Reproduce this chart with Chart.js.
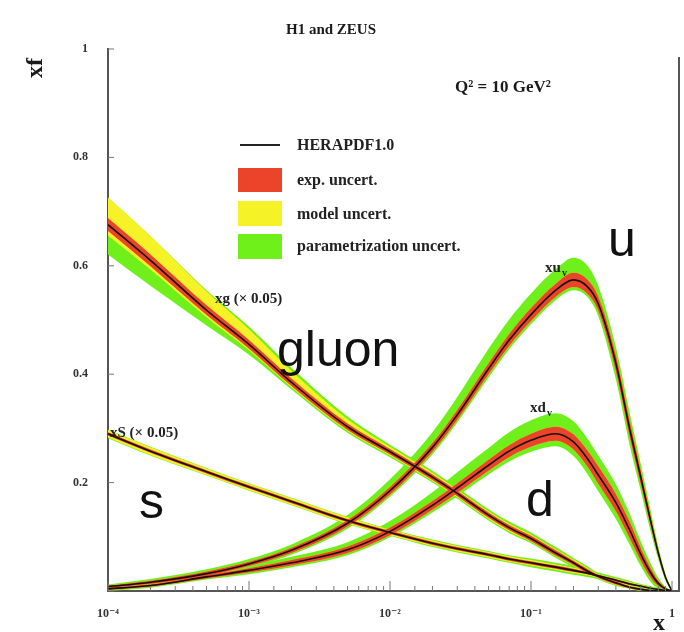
<!DOCTYPE html>
<html>
<head>
<meta charset="utf-8">
<script src="https://cdn.jsdelivr.net/npm/chart.js@4.4.1/dist/chart.umd.min.js"></script>
<style>
  html, body { margin: 0; padding: 0; background: #fff; }
</style>
</head>
<body>
<canvas id="pdf-chart" width="684" height="632"></canvas>
<script>
// x grid (log scale) shared by all the curves
const xValues = [1e-4, 2e-4, 5e-4, 1e-3, 2e-3, 5e-3, 0.01, 0.02, 0.03, 0.05, 0.07, 0.1,
                 0.15, 0.2, 0.25, 0.3, 0.4, 0.5, 0.6, 0.7, 0.8, 0.9, 1];

// central values, HERAPDF1.0 at Q^2 = 10 GeV^2
const gluon    = [0.676, 0.61, 0.518, 0.455, 0.385, 0.303, 0.257, 0.21, 0.18, 0.14, 0.117, 0.097,
                  0.07, 0.052, 0.037, 0.027, 0.015, 0.007, 0.003, 0.001, 0, 0, 0];   // xg x 0.05
const sea      = [0.29, 0.258, 0.22, 0.192, 0.165, 0.13, 0.108, 0.088, 0.078, 0.067, 0.059, 0.052,
                  0.044, 0.038, 0.033, 0.028, 0.02, 0.013, 0.009, 0.005, 0.003, 0.001, 0];  // xS x 0.05
const uValence = [0.008, 0.016, 0.032, 0.05, 0.075, 0.125, 0.185, 0.265, 0.325, 0.41, 0.463, 0.51,
                  0.555, 0.574, 0.562, 0.53, 0.42, 0.30, 0.21, 0.133, 0.07, 0.025, 0];
const dValence = [0.004, 0.01, 0.026, 0.038, 0.052, 0.076, 0.11, 0.158, 0.19, 0.232, 0.258, 0.278,
                  0.29, 0.275, 0.245, 0.214, 0.163, 0.113, 0.068, 0.035, 0.014, 0.004, 0];

// uncertainties (widths of each band layer)
const gluonExp    = [0.012, 0.011, 0.009, 0.008, 0.007, 0.006, 0.005, 0.005, 0.005, 0.005, 0.005, 0.005,
                     0.005, 0.004, 0.004, 0.003, 0.003, 0.002, 0.002, 0.001, 0.001, 0, 0];
const gluonModUp  = [0.038, 0.034, 0.026, 0.02, 0.014, 0.008, 0.004, 0.003, 0.002, 0.002, 0.002, 0.002,
                     0.002, 0.002, 0.002, 0.001, 0.001, 0.001, 0, 0, 0, 0, 0];
const gluonModDn  = [0.008, 0.006, 0.004, 0.003, 0.002, 0.002, 0.002, 0.002, 0.002, 0.002, 0.002, 0.001,
                     0.001, 0.001, 0.001, 0.001, 0.001, 0, 0, 0, 0, 0, 0];
const gluonParUp  = [0, 0, 0.002, 0.005, 0.006, 0.005, 0.004, 0.004, 0.004, 0.004, 0.004, 0.004,
                     0.004, 0.003, 0.003, 0.002, 0.002, 0.001, 0.001, 0, 0, 0, 0];
const gluonParDn  = [0.035, 0.03, 0.015, 0.008, 0.004, 0.003, 0.003, 0.003, 0.003, 0.003, 0.003, 0.003,
                     0.003, 0.003, 0.002, 0.002, 0.002, 0.001, 0.001, 0, 0, 0, 0];
const seaExp      = [0.003, 0.003, 0.003, 0.003, 0.003, 0.003, 0.003, 0.003, 0.003, 0.003, 0.003, 0.003,
                     0.003, 0.003, 0.002, 0.002, 0.002, 0.002, 0.001, 0.001, 0.001, 0, 0];
const seaMod      = [0.004, 0.004, 0.003, 0.003, 0.003, 0.003, 0.002, 0.002, 0.002, 0.002, 0.002, 0.002,
                     0.002, 0.002, 0.002, 0.001, 0.001, 0.001, 0.001, 0.001, 0, 0, 0];
const seaPar      = [0.001, 0.001, 0.001, 0.001, 0.001, 0.001, 0.001, 0.002, 0.002, 0.002, 0.002, 0.003,
                     0.003, 0.003, 0.003, 0.003, 0.003, 0.003, 0.002, 0.002, 0.001, 0.001, 0];
const uExp        = [0.002, 0.003, 0.004, 0.004, 0.005, 0.006, 0.007, 0.008, 0.009, 0.01, 0.011, 0.012,
                     0.012, 0.013, 0.013, 0.013, 0.015, 0.015, 0.013, 0.01, 0.006, 0.003, 0];
const uParUp      = [0.002, 0.003, 0.004, 0.005, 0.006, 0.009, 0.014, 0.02, 0.024, 0.027, 0.027, 0.027,
                     0.027, 0.028, 0.026, 0.02, 0.015, 0.015, 0.012, 0.01, 0.006, 0.003, 0];
const uParDn      = [0.002, 0.002, 0.003, 0.003, 0.003, 0.004, 0.004, 0.005, 0.005, 0.006, 0.006, 0.006,
                     0.006, 0.006, 0.006, 0.01, 0.015, 0.015, 0.012, 0.01, 0.006, 0.003, 0];
const dExp        = [0.002, 0.002, 0.003, 0.004, 0.005, 0.006, 0.007, 0.008, 0.009, 0.01, 0.011, 0.012,
                     0.013, 0.014, 0.015, 0.016, 0.016, 0.015, 0.012, 0.009, 0.005, 0.002, 0];
const dParUp      = [0.002, 0.003, 0.003, 0.004, 0.006, 0.008, 0.012, 0.016, 0.02, 0.022, 0.024, 0.025,
                     0.025, 0.024, 0.022, 0.02, 0.018, 0.015, 0.012, 0.009, 0.005, 0.002, 0];
const dParDn      = [0.002, 0.002, 0.002, 0.003, 0.003, 0.004, 0.004, 0.005, 0.006, 0.007, 0.008, 0.009,
                     0.01, 0.012, 0.013, 0.014, 0.014, 0.012, 0.01, 0.008, 0.005, 0.002, 0];

const zeros = xValues.map(() => 0);

const RED = 'rgb(236, 68, 42)';
const YELLOW = 'rgb(246, 242, 40)';
const GREEN = 'rgb(112, 240, 26)';

// sum a list of width arrays and add them to the centre
function offset(centre, widths, sign) {
    return centre.map((v, i) => {
        let w = 0;
        widths.forEach(arr => { w += arr[i]; });
        return Math.max(0, v + sign * w);
    });
}

function points(vals) {
    return xValues.map((x, i) => ({ x: x, y: vals[i] }));
}

const datasets = [];

function addBand(hi, lo, colour, order) {
    datasets.push({ data: points(hi), borderWidth: 0, backgroundColor: colour, fill: '+1', order: order });
    datasets.push({ data: points(lo), borderWidth: 0, fill: false, order: order });
}

function addPdf(centre, exp, modUp, modDn, parUp, parDn) {
    addBand(offset(centre, [exp, modUp, parUp], 1), offset(centre, [exp, modDn, parDn], -1), GREEN, 4);
    addBand(offset(centre, [exp, modUp], 1), offset(centre, [exp, modDn], -1), YELLOW, 3);
    addBand(offset(centre, [exp], 1), offset(centre, [exp], -1), RED, 2);
    datasets.push({ data: points(centre), borderColor: '#151010', borderWidth: 1.6, fill: false, order: 1 });
}

addPdf(gluon, gluonExp, gluonModUp, gluonModDn, gluonParUp, gluonParDn);
addPdf(sea, seaExp, seaMod, seaMod, seaPar, seaPar);
addPdf(uValence, uExp, zeros, zeros, uParUp, uParDn);
addPdf(dValence, dExp, zeros, zeros, dParUp, dParDn);

const SERIF = '"Liberation Serif", "DejaVu Serif", serif';
const SANS = '"Liberation Sans", Arial, sans-serif';
const supMap = { '-': '\u207B', '0': '\u2070', '1': '\u00B9', '2': '\u00B2', '3': '\u00B3', '4': '\u2074' };

function text(ctx, s, x, y, font, align) {
    ctx.font = font;
    ctx.textAlign = align || 'left';
    ctx.fillText(s, x, y);
}

// frame, inward ticks, labels and legend
const decorations = {
    id: 'decorations',
    afterDraw(chart) {
        const { ctx, chartArea: a, scales } = chart;
        ctx.save();
        ctx.strokeStyle = '#555';
        ctx.lineWidth = 2;
        ctx.beginPath();
        ctx.moveTo(679, a.top + 8);
        ctx.lineTo(679, a.bottom);
        ctx.lineTo(a.right, a.bottom);
        ctx.stroke();

        ctx.lineWidth = 1;
        ctx.strokeStyle = '#777';
        scales.x.ticks.forEach(t => {
            const px = scales.x.getPixelForValue(t.value);
            const l = Math.log10(t.value);
            const len = Math.abs(l - Math.round(l)) < 1e-6 ? 10 : 5;
            ctx.beginPath();
            ctx.moveTo(px, a.bottom);
            ctx.lineTo(px, a.bottom - len);
            ctx.stroke();
        });
        scales.y.ticks.forEach(t => {
            const py = scales.y.getPixelForValue(t.value);
            ctx.beginPath();
            ctx.moveTo(a.left, py);
            ctx.lineTo(a.left + 6, py);
            ctx.stroke();
        });

        ctx.fillStyle = '#1a1a1a';
        ctx.textBaseline = 'middle';
        text(ctx, 'H1 and ZEUS', 331, 30, 'bold 15px ' + SERIF, 'center');
        text(ctx, 'Q\u00B2 = 10 GeV\u00B2', 455, 88, 'bold 17px ' + SERIF);
        text(ctx, 'x', 659, 624, 'bold 24px ' + SERIF, 'center');
        ctx.save();
        ctx.translate(36, 68);
        ctx.rotate(-Math.PI / 2);
        text(ctx, 'xf', 0, 0, 'bold 24px ' + SERIF, 'center');
        ctx.restore();

        // legend
        ctx.strokeStyle = '#222';
        ctx.lineWidth = 2;
        ctx.beginPath();
        ctx.moveTo(240, 145);
        ctx.lineTo(280, 145);
        ctx.stroke();
        ctx.fillStyle = RED;
        ctx.fillRect(238, 168, 44, 24);
        ctx.fillStyle = YELLOW;
        ctx.fillRect(238, 201, 44, 25);
        ctx.fillStyle = GREEN;
        ctx.fillRect(238, 234, 44, 25);
        ctx.fillStyle = '#222';
        const lf = 'bold 16px ' + SERIF;
        text(ctx, 'HERAPDF1.0', 297, 146, lf);
        text(ctx, 'exp. uncert.', 297, 181, lf);
        text(ctx, 'model uncert.', 297, 215, lf);
        text(ctx, 'parametrization uncert.', 297, 247, lf);

        // curve labels
        const cf = 'bold 15px ' + SERIF;
        text(ctx, 'xg (\u00D7 0.05)', 215, 299, cf);
        text(ctx, 'xS (\u00D7 0.05)', 110, 433, cf);
        text(ctx, 'xu', 545, 268, cf);
        text(ctx, 'v', 562, 273, 'bold 10px ' + SERIF);
        text(ctx, 'xd', 530, 408, cf);
        text(ctx, 'v', 547, 413, 'bold 10px ' + SERIF);

        ctx.fillStyle = '#111';
        ctx.textBaseline = 'alphabetic';
        const bf = '50px ' + SANS;
        text(ctx, 'u', 608, 256, bf);
        text(ctx, 'gluon', 277, 366, bf);
        text(ctx, 's', 139, 518, bf);
        text(ctx, 'd', 526, 516, bf);
        ctx.restore();
    }
};

const chart = new Chart(document.getElementById('pdf-chart'), {
    type: 'line',
    data: { datasets: datasets },
    options: {
        responsive: false,
        animation: false,
        elements: {
            point: { radius: 0 },
            line: { cubicInterpolationMode: 'monotone' }
        },
        layout: { padding: { left: 0, right: 12, top: 49, bottom: 0 } },
        plugins: {
            legend: { display: false },
            tooltip: { enabled: false }
        },
        scales: {
            x: {
                type: 'logarithmic',
                min: 1e-4,
                max: 1,
                afterFit: s => { s.height = 41; },
                grid: { display: false },
                border: { display: true, color: '#555', width: 2 },
                ticks: {
                    autoSkip: false,
                    maxRotation: 0,
                    padding: 8,
                    color: '#333',
                    font: { family: SERIF, size: 12, weight: 'bold' },
                    callback: v => {
                        const l = Math.log10(v);
                        if (Math.abs(l - Math.round(l)) > 1e-6) return '';
                        const n = Math.round(l);
                        if (n === 0) return '1';
                        return '10' + String(n).split('').map(c => supMap[c]).join('');
                    }
                }
            },
            y: {
                min: 0,
                max: 1,
                afterFit: s => { s.width = 108; },
                grid: { display: false },
                border: { display: true, color: '#555', width: 2 },
                ticks: {
                    stepSize: 0.2,
                    padding: 12,
                    color: '#333',
                    font: { family: SERIF, size: 12, weight: 'bold' },
                    callback: v => (v === 0 ? '' : (v === 1 ? '1' : v.toFixed(1)))
                }
            }
        }
    },
    plugins: [decorations]
});
</script>
</body>
</html>
